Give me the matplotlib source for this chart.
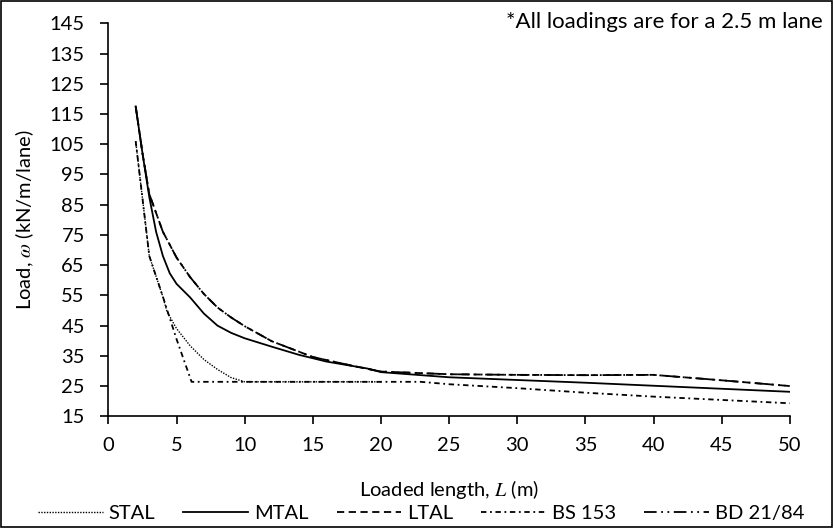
import matplotlib
matplotlib.use("Agg")
import matplotlib.pyplot as plt
from matplotlib.patches import Rectangle

plt.rcParams['font.family'] = ['Lato', 'DejaVu Sans']
plt.rcParams['mathtext.fontset'] = 'stix'

# loaded length (m) and load (kN/m/lane)
stal_L = [2, 3, 4, 4.3, 5, 6, 7, 8, 9, 10, 15, 20]
stal_w = [106, 68, 54.5, 49.6, 44, 38.3, 33.8, 30.5, 27.8, 26.4, 26.4, 26.4]

mtal_L = [2, 2.5, 3, 3.5, 4, 4.5, 5, 6, 7, 8, 9, 10, 12, 14, 16, 19, 20, 25, 30, 35, 40, 45, 50]
mtal_w = [117.5, 102, 87.5, 76, 68, 62.3, 58.8, 54.3, 49, 45, 42.6, 40.8, 38, 35.3, 33.1, 30.8, 29.6,
          27.9, 27.0, 26.1, 25.1, 24.1, 23.1]

ltal_L = [2, 2.5, 3, 4, 5, 6, 7, 8, 9, 10, 12, 15, 18, 20, 25, 30, 35, 40, 45, 50]
ltal_w = [117.5, 102, 88.5, 76, 67.5, 61, 55.5, 51, 47.7, 44.8, 39.8, 34.6, 31.6, 29.8,
          28.9, 28.7, 28.6, 28.7, 26.9, 25.0]

bs153_L = [2, 3, 4, 5, 6.1, 10, 15, 20, 22.9, 25, 30, 35, 40, 45, 50]
bs153_w = [106, 68, 54.5, 40.5, 26.4, 26.4, 26.4, 26.4, 26.4, 25.6, 24.3, 22.8, 21.5, 20.4, 19.3]

bd2184_L = ltal_L
bd2184_w = ltal_w

fs = 14.5

fig = plt.figure(figsize=(8.34, 5.28), dpi=100)
ax = fig.add_axes([0.130, 0.2116, 0.817, 0.7443])

ax.plot(stal_L, stal_w, color='black', lw=1.0, linestyle=(0, (1, 1)), label='STAL')
ax.plot(mtal_L, mtal_w, color='black', lw=1.3, linestyle='-', label='MTAL')
ax.plot(ltal_L, ltal_w, color='black', lw=1.3, linestyle=(0, (4, 2.5)), label='LTAL')
ax.plot(bs153_L, bs153_w, color='black', lw=1.3, linestyle=(0, (3, 2, 1, 2)), label='BS 153')
ax.plot(bd2184_L, bd2184_w, color='black', lw=1.3, linestyle=(0, (7, 2.5, 1, 2.5, 1, 2.5)),
        label='BD 21/84')

ax.set_xlim(0, 50)
ax.set_ylim(15, 145)
ax.set_xticks(range(0, 51, 5))
ax.set_yticks(range(15, 146, 10))
ax.spines['top'].set_visible(False)
ax.spines['right'].set_visible(False)
ax.spines['left'].set_linewidth(1.2)
ax.spines['bottom'].set_linewidth(1.2)
ax.tick_params(direction='out', length=6, width=1.2, labelsize=fs)
ax.tick_params(axis='y', pad=11)
ax.tick_params(axis='x', pad=9)

ax.set_xlabel('Loaded length, $L$ (m)', fontsize=fs)
ax.set_ylabel('Load, $\\omega$ (kN/m/lane)', fontsize=fs)
ax.xaxis.set_label_coords(0.5, -0.157)
ax.yaxis.set_label_coords(-0.107, 0.5)

fig.text(0.986, 0.958, '*All loadings are for a 2.5 m lane', ha='right', va='center', fontsize=16)

fig.legend(loc='center', bbox_to_anchor=(0.505, 0.028), ncol=5, frameon=False,
           fontsize=fs, handlelength=3.2, columnspacing=1.4, handletextpad=0.3)

# chart area border
fig.patches.append(Rectangle((0.001, 0.001), 0.997, 0.997, transform=fig.transFigure,
                             fill=False, edgecolor='black', lw=1.2))

fig.savefig('out.png', dpi=100)
